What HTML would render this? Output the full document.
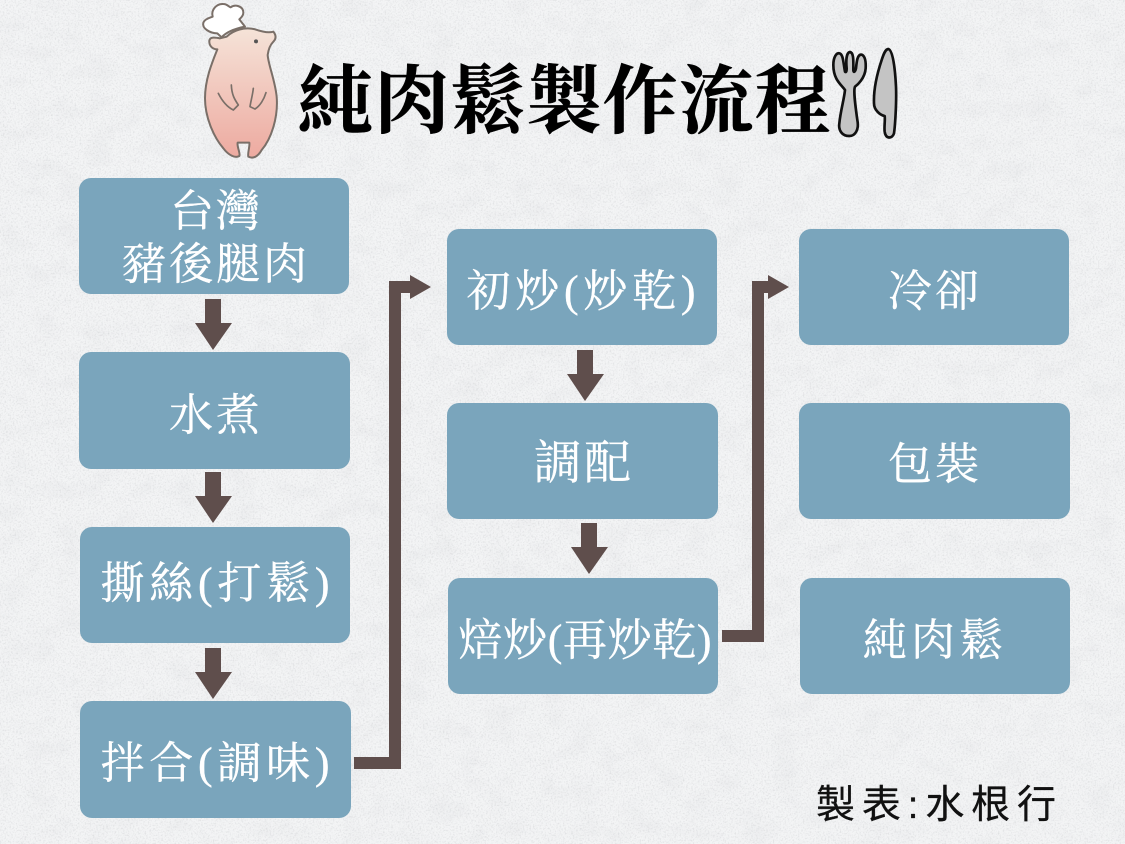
<!DOCTYPE html>
<html lang="zh-Hant"><head><meta charset="utf-8"><title>純肉鬆製作流程</title>
<style>html,body{margin:0;padding:0;background:#f1f2f3}svg{display:block}
.l{font-family:"Liberation Serif","Noto Serif CJK TC","Noto Serif CJK SC","Noto Sans CJK TC",serif;fill:#fff;stroke:#fff;stroke-width:.35px;font-size:44px}
</style></head><body>
<svg width="1125" height="844" viewBox="0 0 1125 844" xmlns="http://www.w3.org/2000/svg">
<defs>
<filter id="n" x="0" y="0" width="100%" height="100%"><feTurbulence type="fractalNoise" baseFrequency="0.6" numOctaves="4" seed="4"/><feColorMatrix values="0 0 0 0 0.5 0 0 0 0 0.51 0 0 0 0 0.53 2.2 0 0 0 -1.02"/></filter>
<filter id="m" x="0" y="0" width="100%" height="100%"><feTurbulence type="fractalNoise" baseFrequency="0.035 0.05" numOctaves="4" seed="9"/><feColorMatrix values="0 0 0 0 0.7 0 0 0 0 0.71 0 0 0 0 0.73 1.6 0 0 0 -0.72"/></filter>
<linearGradient id="p" x1="0" y1="0" x2="0" y2="1"><stop offset="0" stop-color="#f5e3d8"/><stop offset="1" stop-color="#edaaa0"/></linearGradient>
</defs>
<rect width="1125" height="844" fill="#f3f4f5"/>
<rect width="1125" height="844" filter="url(#m)" opacity=".35"/>
<rect width="1125" height="844" filter="url(#n)" opacity=".4"/>
<g fill="#7aa5bc">
<rect x="79" y="178" width="270" height="116" rx="12"/>
<rect x="79" y="352" width="271" height="117" rx="12"/>
<rect x="80" y="527" width="270" height="116" rx="12"/>
<rect x="80" y="701" width="271" height="117" rx="12"/>
<rect x="447" y="229" width="270" height="116" rx="12"/>
<rect x="447" y="403" width="271" height="116" rx="12"/>
<rect x="448" y="578" width="270" height="116" rx="12"/>
<rect x="799" y="229" width="270" height="116" rx="12"/>
<rect x="799" y="403" width="271" height="116" rx="12"/>
<rect x="800" y="578" width="270" height="116" rx="12"/>
</g>
<g fill="#5f4e4c">
<path d="M205 299h16v24h11l-19 27-18-27h10z"/>
<path d="M205 472h16v24h11l-19 27-18-27h10z"/>
<path d="M205 648h16v24h11l-19 27-18-27h10z"/>
<path d="M577 350h16v24h11l-19 27-18-27h10z"/>
<path d="M581 523h16v24h11l-19 27-18-27h10z"/>
<path d="M354 757H389V281H410V275L431 287L410 299V293H401V769H354Z"/>
<path d="M722 630H752V281H768V275L789 287L768 299V293H764V642H722Z"/>
</g>
<g class="l" text-anchor="middle">
<text x="216" y="226" class="l" letter-spacing="2">台灣</text>
<text x="216" y="279" class="l" letter-spacing="3">豬後腿肉</text>
<text x="216" y="430" class="l" letter-spacing="3">水煮</text>
<text x="215" y="598" class="l" textLength="229" lengthAdjust="spacing">撕絲(打鬆)</text>
<text x="215" y="778" class="l" textLength="229" lengthAdjust="spacing">拌合(調味)</text>
<text x="581" y="306" class="l" textLength="229" lengthAdjust="spacing">初炒(炒乾)</text>
<text x="584" y="479" class="l" font-size="46" style="font-size:47px" letter-spacing="3">調配</text>
<text x="935" y="306" class="l" letter-spacing="3">冷卻</text>
<text x="935" y="479" class="l" letter-spacing="3">包裝</text>
<text x="585" y="655" class="l" textLength="253" lengthAdjust="spacing">焙炒(再炒乾)</text>
<text x="935" y="655" class="l" letter-spacing="4">純肉鬆</text>
</g>
<text x="298" y="127" textLength="532" lengthAdjust="spacing" style="font-family:'Liberation Serif','Noto Serif CJK TC','Noto Serif CJK SC',serif;font-size:75px;font-weight:700;fill:#000;stroke:#000;stroke-width:.5px">純肉鬆製作流程</text>
<text x="816" y="818" textLength="240" lengthAdjust="spacing" style="font-family:'Liberation Sans','Noto Sans CJK TC',sans-serif;font-size:39px;fill:#111;stroke:#111;stroke-width:.3px">製表:水根行</text>
<!-- chef and pig, drawn in 3x local coordinates -->
<g transform="translate(190 0) scale(.33333)" stroke="#7a6f68" stroke-width="6" stroke-linejoin="round" stroke-linecap="round">
<path d="M82 100C60 100 35 85 40 68C45 55 65 52 68 50C62 30 80 10 100 12C112 12 118 22 122 22C135 12 160 18 160 38C160 50 150 55 148 58L165 80C140 85 110 95 95 112Z" fill="#fff"/>
<path d="M110 110C130 90 165 80 195 88C215 95 235 100 250 95C258 105 260 115 250 125C240 135 235 150 233 165C235 195 255 240 260 290C265 350 245 415 215 450C205 468 190 478 175 470C172 460 180 440 178 428L143 428C140 440 152 460 148 468C135 476 115 465 100 445C70 410 45 350 45 295C45 240 65 190 82 148C65 148 57 135 58 122C60 110 75 112 90 115Z" fill="url(#p)"/>
<path d="M85 280C95 300 110 320 130 330L145 315C135 300 125 285 124 255M190 265C188 285 182 305 180 320L195 327C210 318 222 298 228 278" fill="none" stroke-width="5"/>
<circle cx="198" cy="124" r="6" fill="#555" stroke="none"/>
</g>
<!-- fork and knife -->
<g transform="translate(800 30) scale(.33333)" fill="#c4c4c4" stroke="#111" stroke-width="8" stroke-linejoin="round">
<path d="M100 105C100 80 110 68 118 70C130 72 130 100 135 125C138 128 140 125 140 115C138 95 138 68 150 66C162 68 160 95 160 120C160 128 165 128 168 115C170 95 172 72 185 74C195 78 198 95 197 115C195 145 172 165 165 170C160 180 165 220 172 270C178 300 165 318 148 318C125 318 115 300 118 280C122 240 132 210 135 180C125 165 100 150 100 105Z"/>
<path d="M265 57C278 60 285 110 288 170C290 220 285 290 282 310C278 325 258 330 254 305C252 290 256 270 254 258C240 255 222 240 222 220C220 170 235 120 245 90C250 75 255 58 265 57Z"/>
</g>
</svg>
</body></html>
